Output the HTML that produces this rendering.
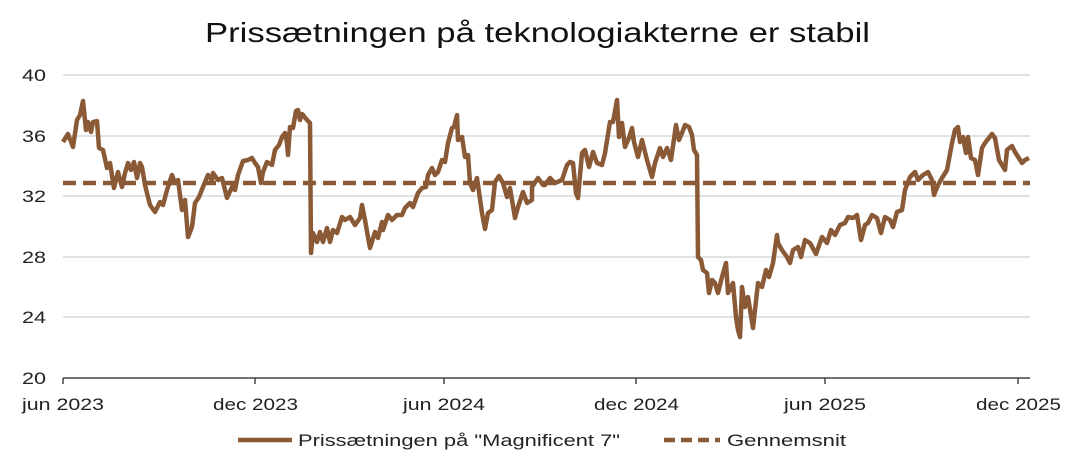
<!DOCTYPE html>
<html><head><meta charset="utf-8"><style>
body{margin:0;background:#fff;font-family:"Liberation Sans",sans-serif;}
</style></head><body>
<svg width="1084" height="466" xmlns="http://www.w3.org/2000/svg" font-family="Liberation Sans, sans-serif">
<text x="205" y="42" font-size="28" fill="#111" textLength="665" lengthAdjust="spacingAndGlyphs">Prissætningen på teknologiakterne  er stabil</text>
<g stroke="#dfe3e3" stroke-width="2">
<line x1="63" x2="1030" y1="75" y2="75"/><line x1="63" x2="1030" y1="136" y2="136"/>
<line x1="63" x2="1030" y1="196" y2="196"/><line x1="63" x2="1030" y1="257" y2="257"/>
<line x1="63" x2="1030" y1="317" y2="317"/>
</g>
<line x1="63" x2="1030" y1="378" y2="378" stroke="#444" stroke-width="1.5"/>
<g stroke="#444" stroke-width="1.5">
<line x1="63" x2="63" y1="378" y2="384"/><line x1="255" x2="255" y1="378" y2="384"/>
<line x1="444" x2="444" y1="378" y2="384"/><line x1="636" x2="636" y1="378" y2="384"/>
<line x1="825" x2="825" y1="378" y2="384"/><line x1="1018" x2="1018" y1="378" y2="384"/>
</g>
<g font-size="17" fill="#222" text-anchor="end">
<text x="46" y="81" textLength="24" lengthAdjust="spacingAndGlyphs">40</text><text x="46" y="142" textLength="24" lengthAdjust="spacingAndGlyphs">36</text><text x="46" y="202" textLength="24" lengthAdjust="spacingAndGlyphs">32</text>
<text x="46" y="263" textLength="24" lengthAdjust="spacingAndGlyphs">28</text><text x="46" y="323" textLength="24" lengthAdjust="spacingAndGlyphs">24</text><text x="46" y="384" textLength="24" lengthAdjust="spacingAndGlyphs">20</text>
</g>
<g font-size="17" fill="#222">
<text x="22" y="410" textLength="82" lengthAdjust="spacingAndGlyphs">jun 2023</text>
<text x="213" y="410" textLength="85" lengthAdjust="spacingAndGlyphs">dec 2023</text>
<text x="403" y="410" textLength="82" lengthAdjust="spacingAndGlyphs">jun 2024</text>
<text x="594" y="410" textLength="85" lengthAdjust="spacingAndGlyphs">dec 2024</text>
<text x="784" y="410" textLength="82" lengthAdjust="spacingAndGlyphs">jun 2025</text>
<text x="976" y="410" textLength="85" lengthAdjust="spacingAndGlyphs">dec 2025</text>
</g>
<line x1="63" x2="1030" y1="183" y2="183" stroke="#8a5a36" stroke-width="4.5" stroke-dasharray="13,7"/>
<polyline fill="none" stroke="#8a5a36" stroke-width="4.5" stroke-linejoin="round" points="63,142 68,134 73,147 77,120 80,115 83,101 86,130 88,122 91,132 93,122 97,121 99,148 103,150 107,168 110,163 114,188 118,172 122,187 125,173 128,163 131,170 134,162 137,178 140,163 142,167 145,185 150,205 155,212 160,202 163,205 167,190 172,175 175,183 178,180 182,210 185,200 188,237 192,227 195,203 199,197 203,187 208,175 212,180 213,173 218,180 222,178 227,198 232,187 235,190 238,175 243,161 248,160 252,158 255,163 258,167 261,183 263,172 267,162 272,165 275,150 279,145 282,137 285,133 287,143 288,155 290,127 293,128 296,111 298,110 300,120 302,114 303,115 307,120 310,123 311,253 313,233 317,242 320,232 323,242 327,228 330,242 333,230 337,233 342,217 345,220 350,217 355,225 360,218 362,205 365,220 368,237 370,248 375,232 378,238 382,222 383,230 388,215 392,220 397,215 402,215 405,208 410,203 413,207 418,193 422,188 426,187 428,175 432,168 435,175 438,172 442,160 445,162 448,143 452,128 454,127 457,115 458,140 462,137 465,157 468,155 470,183 473,190 477,178 482,213 485,229 488,213 492,210 495,182 499,176 503,183 507,197 510,188 515,218 518,207 523,192 527,203 532,200 532,187 538,178 543,185 545,185 550,178 555,183 562,180 567,165 570,162 573,163 576,193 578,198 582,153 585,150 589,167 593,152 597,163 602,165 605,153 610,122 613,122 617,100 619,137 622,123 625,147 629,138 632,128 634,142 638,157 642,140 647,160 652,177 655,163 660,148 663,157 667,148 671,160 676,125 679,140 682,133 685,125 689,127 692,135 694,150 697,155 698,257 701,260 703,270 707,273 709,293 712,280 715,283 718,293 722,277 726,263 728,293 733,283 736,317 738,330 740,337 742,287 745,307 748,297 753,328 758,283 762,287 766,270 769,277 773,263 777,235 778,243 782,250 787,257 790,263 793,250 798,247 801,257 805,240 810,243 816,254 822,237 827,243 831,230 835,235 840,225 845,223 848,217 853,218 857,215 861,240 865,225 868,223 872,215 877,218 881,233 885,217 890,220 893,227 897,212 902,210 905,190 910,177 915,172 918,180 923,175 928,172 932,180 934,195 938,185 942,178 947,170 952,143 955,130 958,127 960,142 963,137 966,153 968,137 971,158 975,160 978,175 982,148 985,143 992,134 995,138 999,160 1005,170 1007,150 1012,146 1015,152 1022,163 1025,160 1029,158"/>
<line x1="238" x2="292" y1="440" y2="440" stroke="#8a5a36" stroke-width="4.5"/>
<text x="298" y="446" font-size="17" fill="#222" textLength="322" lengthAdjust="spacingAndGlyphs">Prissætningen på "Magnificent 7"</text>
<line x1="664" x2="720" y1="440" y2="440" stroke="#8a5a36" stroke-width="4.5" stroke-dasharray="11,6"/>
<text x="727" y="446" font-size="17" fill="#222" textLength="119" lengthAdjust="spacingAndGlyphs">Gennemsnit</text>
</svg>
</body></html>
